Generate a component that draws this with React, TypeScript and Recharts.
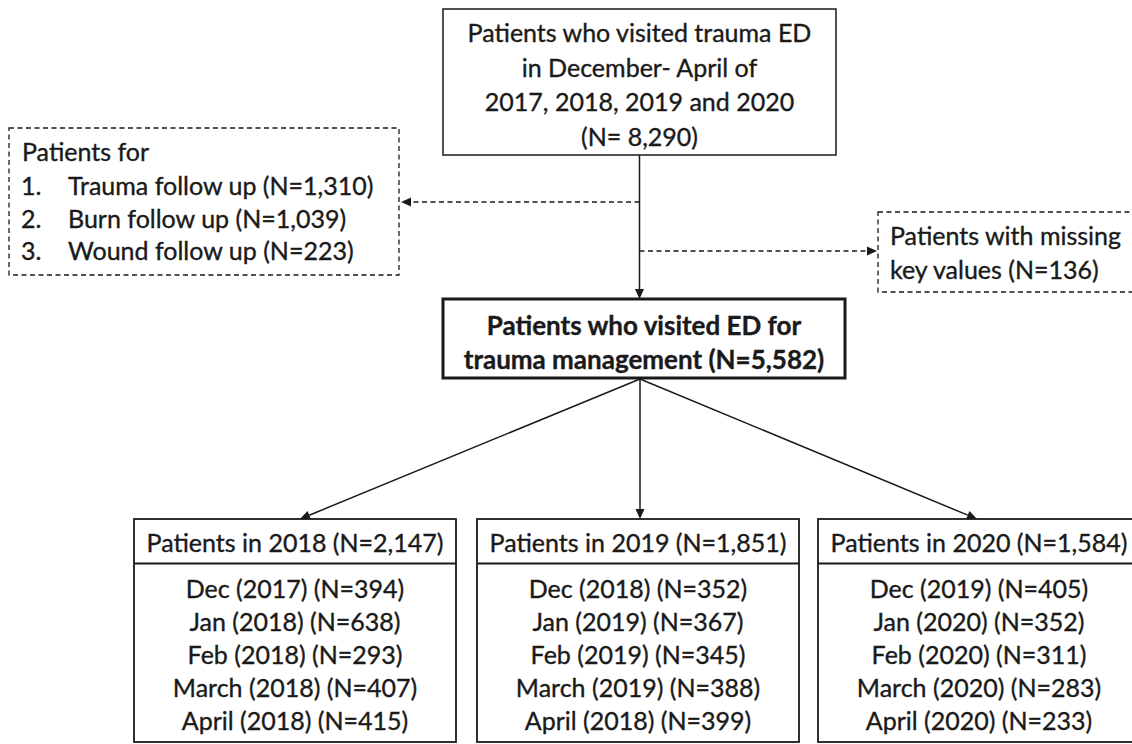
import React from 'react'
import { ScatterChart, Scatter, XAxis, YAxis, ReferenceLine } from 'recharts'

// ---- text / values ----
const sourceLines = ['Patients who visited trauma ED', 'in December- April of', '2017, 2018, 2019 and 2020', '(N= 8,290)']
const excludedTitle = 'Patients for'
const excludedReasons = ['Trauma follow up', 'Burn follow up', 'Wound follow up']
const excludedCounts = ['1,310', '1,039', '223']
const missingLines = ['Patients with missing', 'key values (N=136)']
const cohortLines = ['Patients who visited ED for', 'trauma management (N=5,582)']
const years = ['2018', '2019', '2020']
const yearTotals = ['2,147', '1,851', '1,584']
const months = ['Dec', 'Jan', 'Feb', 'March', 'April']
const monthYears = [
  ['2017', '2018', '2018', '2018', '2018'],
  ['2018', '2019', '2019', '2019', '2018'],
  ['2019', '2020', '2020', '2020', '2020'],
]
const monthCounts = [
  [394, 638, 293, 407, 415],
  [352, 367, 345, 388, 399],
  [405, 352, 311, 283, 233],
]

// ---- layout (diagram coordinates, same units as the hidden axes) ----
const W = 1132
const H = 744
const FONT = 'Lato, "Open Sans", sans-serif'
const INK = '#1a1a1a'
const FS = 25
const yearCenters = [295, 638, 979]

const nodes = [
  { kind: 'source', x: 639.5, y: 82, w: 393, h: 146, lines: sourceLines },
  {
    kind: 'excluded', x: 204, y: 201.5, w: 390, h: 147,
    lines: [excludedTitle, ...excludedReasons.map((r, i) => `${r} (N=${excludedCounts[i]})`)],
  },
  { kind: 'missing', x: 1009, y: 252, w: 262, h: 80, lines: missingLines },
  { kind: 'cohort', x: 644, y: 338.5, w: 402, h: 79, lines: cohortLines },
  ...years.map((yr, i) => ({
    kind: 'year', x: yearCenters[i], y: 630.5, w: 322, h: 223,
    lines: [
      `Patients in ${yr} (N=${yearTotals[i]})`,
      ...months.map((m, j) => `${m} (${monthYears[i][j]}) (N=${monthCounts[i][j]})`),
    ],
  })),
]

const edges = [
  { from: { x: 639.5, y: 155 }, to: { x: 639.5, y: 299 }, dashed: false },
  { from: { x: 639.5, y: 202 }, to: { x: 401, y: 202 }, dashed: true },
  { from: { x: 639.5, y: 251 }, to: { x: 877, y: 251 }, dashed: true },
  { from: { x: 640, y: 379 }, to: { x: yearCenters[0] + 5, y: 519 }, dashed: false },
  { from: { x: 640, y: 379 }, to: { x: 640, y: 519 }, dashed: false },
  { from: { x: 640, y: 379 }, to: { x: yearCenters[2] - 2, y: 519 }, dashed: false },
]

function Arrow(props: any) {
  const { x1, y1, x2, y2, dashed } = props
  const a = Math.atan2(y2 - y1, x2 - x1)
  const len = 10
  const half = 4.5
  const bx = x2 - len * Math.cos(a)
  const by = y2 - len * Math.sin(a)
  const px = -Math.sin(a) * half
  const py = Math.cos(a) * half
  return (
    <g>
      <line x1={x1} y1={y1} x2={bx} y2={by} stroke={INK} strokeWidth={1.5}
        strokeDasharray={dashed ? '5 3.5' : undefined} />
      <polygon points={`${x2},${y2} ${bx + px},${by + py} ${bx - px},${by - py}`} fill={INK} />
    </g>
  )
}

function NodeShape(props: any) {
  const { cx, cy, payload } = props
  const { kind, w, h, lines } = payload
  const left = cx - w / 2
  const top = cy - h / 2
  const txt = {
    fontFamily: FONT, fontSize: FS, fill: INK, stroke: INK, strokeWidth: 0.35,
    dominantBaseline: 'central' as const,
  }

  if (kind === 'source') {
    return (
      <g>
        <rect x={left} y={top} width={w} height={h} fill="#fff" stroke={INK} strokeWidth={1.5} />
        {lines.map((l: string, i: number) => (
          <text key={i} x={cx} y={top + 23 + i * 34.5} textAnchor="middle" {...txt}>{l}</text>
        ))}
      </g>
    )
  }
  if (kind === 'cohort') {
    return (
      <g>
        <rect x={left} y={top} width={w} height={h} fill="#fff" stroke={INK} strokeWidth={3} />
        {lines.map((l: string, i: number) => (
          <text key={i} x={cx} y={top + 26 + i * 34} textAnchor="middle" {...txt} fontSize={26} fontWeight={700}>{l}</text>
        ))}
      </g>
    )
  }
  if (kind === 'excluded') {
    return (
      <g>
        <rect x={left} y={top} width={w} height={h} fill="#fff" stroke={INK} strokeWidth={1.3} strokeDasharray="5 3.5" />
        <text x={left + 13} y={top + 23} {...txt}>{lines[0]}</text>
        {lines.slice(1).map((l: string, i: number) => (
          <g key={i}>
            <text x={left + 12} y={top + 57 + i * 32.5} {...txt}>{`${i + 1}.`}</text>
            <text x={left + 59} y={top + 57 + i * 32.5} {...txt}>{l}</text>
          </g>
        ))}
      </g>
    )
  }
  if (kind === 'missing') {
    return (
      <g>
        <rect x={left} y={top} width={w} height={h} fill="#fff" stroke={INK} strokeWidth={1.3} strokeDasharray="5 3.5" />
        {lines.map((l: string, i: number) => (
          <text key={i} x={left + 12} y={top + 23 + i * 34} {...txt}>{l}</text>
        ))}
      </g>
    )
  }
  // year box: header row + month rows
  return (
    <g>
      <rect x={left} y={top} width={w} height={h} fill="#fff" stroke={INK} strokeWidth={1.8} />
      <line x1={left} y1={top + 44.5} x2={left + w} y2={top + 44.5} stroke={INK} strokeWidth={1.8} />
      <text x={cx} y={top + 22.5} textAnchor="middle" {...txt}>{lines[0]}</text>
      {lines.slice(1).map((l: string, i: number) => (
        <text key={i} x={cx} y={top + 69 + i * 33} textAnchor="middle" {...txt}>{l}</text>
      ))}
    </g>
  )
}

export default function App() {
  return (
    <div style={{ position: 'absolute', left: 0, top: 0, background: '#fff' }}>
      <ScatterChart width={W} height={H} margin={{ top: 0, right: 0, bottom: 0, left: 0 }}>
        <XAxis type="number" dataKey="x" domain={[0, W]} allowDataOverflow hide />
        <YAxis type="number" dataKey="y" domain={[0, H]} reversed allowDataOverflow hide />
        {edges.map((e, i) => (
          <ReferenceLine
            key={i}
            segment={[e.from, e.to]}
            ifOverflow="visible"
            shape={(p: any) => <Arrow {...p} dashed={e.dashed} />}
          />
        ))}
        <Scatter data={nodes} shape={NodeShape} isAnimationActive={false} />
      </ScatterChart>
    </div>
  )
}
